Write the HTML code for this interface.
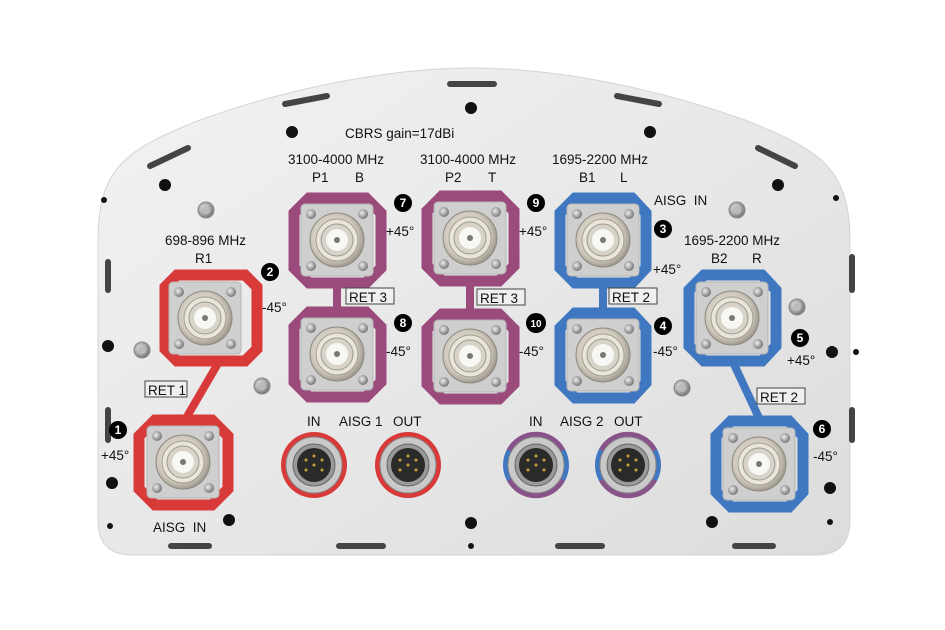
<!DOCTYPE html>
<html><head><meta charset="utf-8"><style>
html,body{margin:0;padding:0;background:#fff;}
svg{display:block;}
text{font-family:"Liberation Sans",sans-serif;fill:#111;}
text.w{fill:#fff;}
</style></head><body>
<svg width="945" height="630" viewBox="0 0 945 630" xmlns="http://www.w3.org/2000/svg">
<defs>
<linearGradient id="bg" x1="0" y1="0" x2="1" y2="1">
<stop offset="0" stop-color="#f2f2f2"/><stop offset="0.5" stop-color="#e8e8e8"/><stop offset="1" stop-color="#dcdcdc"/>
</linearGradient>
<radialGradient id="nut" cx="0.45" cy="0.45" r="0.6">
<stop offset="0" stop-color="#f4f1ea"/><stop offset="0.7" stop-color="#cfc9bd"/><stop offset="1" stop-color="#8f8a80"/>
</radialGradient>
<radialGradient id="scr" cx="0.4" cy="0.4" r="0.6">
<stop offset="0" stop-color="#eee"/><stop offset="1" stop-color="#777"/>
</radialGradient>
<g id="conn">
<rect x="-36" y="-36" width="72" height="72" rx="4" fill="#cfcfcf" stroke="#b5b5b5"/>
<circle cx="-26" cy="-26" r="5" fill="url(#scr)"/><circle cx="26" cy="-26" r="5" fill="url(#scr)"/>
<circle cx="-26" cy="26" r="5" fill="url(#scr)"/><circle cx="26" cy="26" r="5" fill="url(#scr)"/>
<circle r="27" fill="url(#nut)" stroke="#8f8a80"/>
<circle r="21" fill="#e9e5dc" stroke="#a39d92"/>
<circle r="16" fill="#d8d3c8" stroke="#9e988c"/>
<circle r="11" fill="#f7f7f3"/>
<circle r="3" fill="#777"/>
</g>
<g id="scw"><circle r="8" fill="url(#scr)" stroke="#888"/><circle r="4" fill="#bbb"/></g>
<g id="aisg">
<circle r="28" fill="#c9c9c9" stroke="#888"/>
<circle r="21" fill="#999" stroke="#666"/>
<circle r="17" fill="#2a2a2a"/>
<circle cx="-8" cy="-5" r="1.5" fill="#c9a23a"/><circle cx="8" cy="-5" r="1.5" fill="#c9a23a"/>
<circle cx="-8" cy="5" r="1.5" fill="#c9a23a"/><circle cx="8" cy="5" r="1.5" fill="#c9a23a"/>
<circle cx="0" cy="0" r="1.5" fill="#c9a23a"/><circle cx="0" cy="-9" r="1.5" fill="#c9a23a"/>
</g>
</defs>
<rect width="945" height="630" fill="#fff"/>
<path d="M98,240 C98,165 130,148 200,120 C300,84 400,68 472,68 C545,68 645,84 745,120 C815,148 850,165 850,240 L850,520 Q850,555 816,555 L132,555 Q98,555 98,520 Z" fill="url(#bg)" stroke="#d4d4d4"/>
<g stroke="#444" stroke-width="6" stroke-linecap="round" fill="none">
<line x1="150" y1="166" x2="188" y2="148"/><line x1="285" y1="104" x2="327" y2="96"/>
<line x1="450" y1="84" x2="494" y2="84"/><line x1="617" y1="96" x2="659" y2="104"/>
<line x1="758" y1="148" x2="795" y2="166"/>
<line x1="108" y1="262" x2="108" y2="290"/><line x1="108" y1="410" x2="108" y2="440"/>
<line x1="852" y1="257" x2="852" y2="290"/><line x1="852" y1="410" x2="852" y2="440"/>
<line x1="171" y1="546" x2="209" y2="546"/><line x1="339" y1="546" x2="383" y2="546"/>
<line x1="558" y1="546" x2="602" y2="546"/><line x1="735" y1="546" x2="773" y2="546"/>
</g>
<g fill="#111">
<circle cx="165" cy="185" r="6"/><circle cx="292" cy="132" r="6"/><circle cx="471" cy="108" r="6"/>
<circle cx="650" cy="132" r="6"/><circle cx="778" cy="185" r="6"/>
<circle cx="104" cy="200" r="3"/><circle cx="836" cy="198" r="3"/>
<circle cx="108" cy="346" r="6"/><circle cx="832" cy="352" r="6"/><circle cx="856" cy="352" r="3"/>
<circle cx="112" cy="483" r="6"/><circle cx="229" cy="520" r="6"/><circle cx="110" cy="526" r="3"/>
<circle cx="471" cy="523" r="6"/><circle cx="471" cy="546" r="3"/>
<circle cx="712" cy="522" r="6"/><circle cx="830" cy="488" r="6"/><circle cx="830" cy="522" r="3"/>
</g>
<use href="#scw" x="206" y="210"/><use href="#scw" x="142" y="350"/><use href="#scw" x="262" y="386"/>
<use href="#scw" x="737" y="210"/><use href="#scw" x="797" y="307"/><use href="#scw" x="682" y="388"/>
<g stroke-width="8" fill="none">
<line x1="220" y1="360" x2="185" y2="420" stroke="#d83a3a"/>
<line x1="337" y1="285" x2="337" y2="310" stroke="#9b4a7c"/>
<line x1="470" y1="285" x2="470" y2="310" stroke="#9b4a7c"/>
<line x1="603" y1="285" x2="603" y2="310" stroke="#3f78c0"/>
<line x1="732" y1="360" x2="760" y2="420" stroke="#3f78c0"/>
</g>
<g fill="none" stroke-width="11">
<path d="M177,275 H245 L257,287 V349 L245,361 H177 L165,349 V287 Z" stroke="#d83a3a"/>
<path d="M155,420 H212 L228,436 V489 L212,505 H155 L139,489 V436 Z" stroke="#d83a3a"/>
<path d="M309,198 H366 L381,213 V268 L366,283 H309 L294,268 V213 Z" stroke="#9b4a7c"/>
<path d="M309,312 H366 L381,327 V382 L366,397 H309 L294,382 V327 Z" stroke="#9b4a7c"/>
<path d="M442,196 H499 L514,211 V266 L499,281 H442 L427,266 V211 Z" stroke="#9b4a7c"/>
<path d="M442,314 H499 L514,329 V384 L499,399 H442 L427,384 V329 Z" stroke="#9b4a7c"/>
<path d="M575,198 H632 L646,213 V268 L632,283 H575 L560,268 V213 Z" stroke="#3f78c0"/>
<path d="M575,313 H632 L646,328 V383 L632,398 H575 L560,383 V328 Z" stroke="#3f78c0"/>
<path d="M704,275 H762 L776,290 V346 L762,361 H704 L689,346 V290 Z" stroke="#3f78c0"/>
<path d="M731,421 H789 L803,436 V492 L789,507 H731 L716,492 V436 Z" stroke="#3f78c0"/>
</g>
<use href="#conn" x="205" y="318"/><use href="#conn" x="183" y="462"/>
<use href="#conn" x="337" y="240"/><use href="#conn" x="337" y="354"/>
<use href="#conn" x="470" y="238"/><use href="#conn" x="470" y="356"/>
<use href="#conn" x="603" y="240"/><use href="#conn" x="603" y="355"/>
<use href="#conn" x="732" y="318"/><use href="#conn" x="759" y="464"/>
<circle cx="314" cy="465" r="33" fill="#d83a3a"/><use href="#aisg" x="314" y="465"/>
<circle cx="408" cy="465" r="33" fill="#d83a3a"/><use href="#aisg" x="408" y="465"/>
<circle cx="536" cy="465" r="33" fill="#3f78c0"/><path d="M507,449 A33,33 0 0 1 565,449 L536,465 Z M507,481 A33,33 0 0 0 565,481 L536,465Z" fill="#9b4a7c" opacity="0.8"/><use href="#aisg" x="536" y="465"/>
<circle cx="628" cy="465" r="33" fill="#3f78c0"/><path d="M599,449 A33,33 0 0 1 657,449 L628,465 Z M599,481 A33,33 0 0 0 657,481 L628,465Z" fill="#9b4a7c" opacity="0.8"/><use href="#aisg" x="628" y="465"/>
<g fill="#f0f0f0" stroke="#444" stroke-width="1">
<rect x="145" y="381" width="42" height="16"/><rect x="346" y="288" width="48" height="16"/>
<rect x="477" y="289" width="48" height="16"/><rect x="609" y="288" width="48" height="16"/>
<rect x="757" y="388" width="48" height="16"/>
</g>
<g font-size="13.5">
<text x="148" y="395">RET 1</text><text x="349" y="302">RET 3</text>
<text x="480" y="303">RET 3</text><text x="612" y="302">RET 2</text>
<text x="760" y="402">RET 2</text>
<text x="345" y="138">CBRS gain=17dBi</text>
<text x="288" y="164">3100-4000 MHz</text><text x="420" y="164">3100-4000 MHz</text>
<text x="552" y="164">1695-2200 MHz</text>
<text x="312" y="182">P1</text><text x="355" y="182">B</text>
<text x="445" y="182">P2</text><text x="488" y="182">T</text>
<text x="579" y="182">B1</text><text x="620" y="182">L</text>
<text x="654" y="205">AISG&#160; IN</text>
<text x="684" y="245">1695-2200 MHz</text>
<text x="711" y="263">B2</text><text x="752" y="263">R</text>
<text x="165" y="245">698-896 MHz</text><text x="195" y="263">R1</text>
<text x="262" y="312">-45°</text>
<text x="101" y="460">+45°</text>
<text x="153" y="532">AISG&#160; IN</text>
<text x="386" y="236">+45°</text><text x="386" y="356">-45°</text>
<text x="519" y="236">+45°</text><text x="519" y="356">-45°</text>
<text x="653" y="274">+45°</text><text x="653" y="356">-45°</text>
<text x="787" y="365">+45°</text><text x="813" y="461">-45°</text>
<text x="307" y="426">IN</text><text x="339" y="426">AISG 1</text><text x="393" y="426">OUT</text>
<text x="529" y="426">IN</text><text x="560" y="426">AISG 2</text><text x="614" y="426">OUT</text>
</g>
<g fill="#000">
<circle cx="118" cy="430" r="9"/><circle cx="270" cy="272" r="9"/><circle cx="663" cy="229" r="9"/>
<circle cx="663" cy="326" r="9"/><circle cx="800" cy="338" r="9"/><circle cx="822" cy="429" r="9"/>
<circle cx="403" cy="203" r="9"/><circle cx="403" cy="323" r="9"/><circle cx="536" cy="203" r="9"/>
<circle cx="536" cy="323" r="10"/>
</g>
<g font-size="12" font-weight="bold" text-anchor="middle">
<text class="w" x="118" y="434">1</text><text class="w" x="270" y="276">2</text>
<text class="w" x="663" y="233">3</text><text class="w" x="663" y="330">4</text>
<text class="w" x="800" y="342">5</text><text class="w" x="822" y="433">6</text>
<text class="w" x="403" y="207">7</text><text class="w" x="403" y="327">8</text>
<text class="w" x="536" y="207">9</text><text class="w" x="536" y="327" font-size="10">10</text>
</g>
</svg>
</body></html>
